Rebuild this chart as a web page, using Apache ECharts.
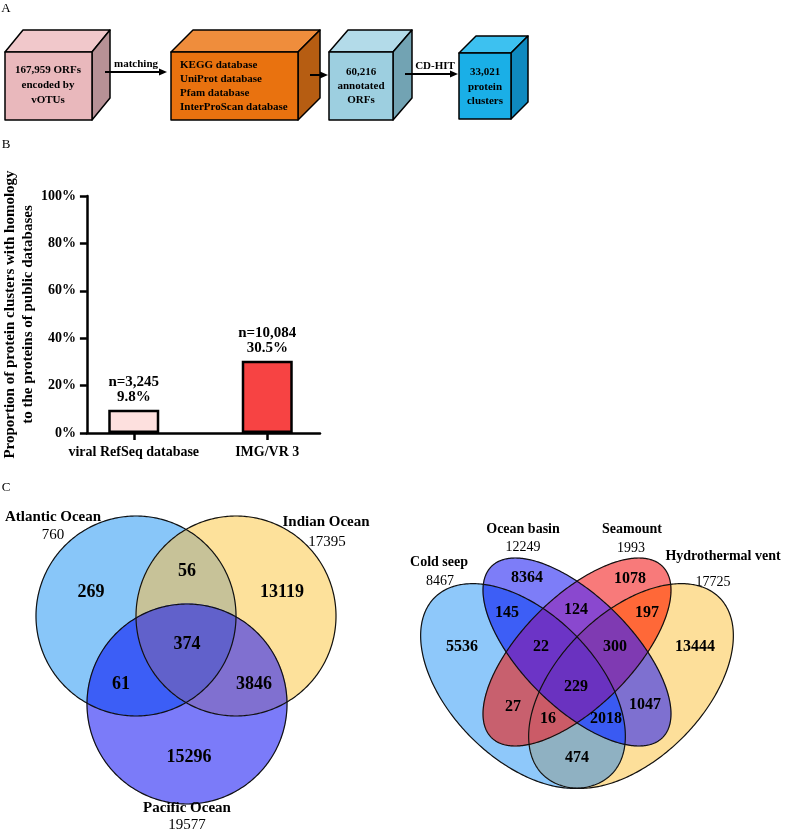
<!DOCTYPE html>
<html><head><meta charset="utf-8">
<script src="https://cdn.jsdelivr.net/npm/echarts@6/dist/echarts.min.js"></script>
<style>html,body{margin:0;padding:0;background:#fff}#main{width:786px;height:831px}</style>
</head><body><div id="main"></div>
<script>
// ---------------- DATA ----------------
const flowTexts = [
  ['167,959 ORFs', 'encoded by', 'vOTUs'],
  ['KEGG database', 'UniProt database', 'Pfam database', 'InterProScan database'],
  ['60,216', 'annotated', 'ORFs'],
  ['33,021', 'protein', 'clusters']
];
const flowArrowLabels = ['matching', '', 'CD-HIT'];

const barCategories = ['viral RefSeq database', 'IMG/VR 3'];
const barPercent = [9.8, 30.5];
const barCounts = ['3,245', '10,084'];
const yAxisMax = 100;
const yAxisStep = 20;
const yAxisTitle = ['Proportion of protein clusters with homology', 'to the proteins of public databases'];

const oceanNames = ['Atlantic Ocean', 'Indian Ocean', 'Pacific Ocean'];
const oceanTotals = [760, 17395, 19577];
const oceanRegionKeys = ['A', 'I', 'P', 'AI', 'AP', 'IP', 'AIP'];
const oceanRegionValues = [269, 13119, 15296, 56, 61, 3846, 374];

const habitatNames = ['Cold seep', 'Ocean basin', 'Seamount', 'Hydrothermal vent'];
const habitatTotals = [8467, 12249, 1993, 17725];
const habitatRegionKeys = ['C', 'O', 'S', 'H', 'CO', 'CS', 'CH', 'OS', 'OH', 'SH', 'COS', 'COH', 'CSH', 'OSH', 'COSH'];
const habitatRegionValues = [5536, 8364, 1078, 13444, 145, 27, 474, 124, 1047, 197, 22, 2018, 16, 300, 229];

// ---------------- LAYOUT / STYLE ----------------
const SERIF = '"Liberation Serif", "Times New Roman", serif';
const boxes = [
  {x: 5, y: 52, w: 87, h: 68, dx: 18, dy: 22, front: '#e9b8bc', top: '#f1c8cb', side: '#b79196', align: 'center', tx: 48, ty: [70, 85, 100]},
  {x: 171, y: 52, w: 127, h: 68, dx: 22, dy: 22, front: '#e9720f', top: '#ef8d3c', side: '#b65d12', align: 'left', tx: 180, ty: [65, 79, 93, 107]},
  {x: 329, y: 52, w: 64, h: 68, dx: 19, dy: 22, front: '#9dcfe0', top: '#b3dbe9', side: '#72a3b3', align: 'center', tx: 361, ty: [72, 86, 100]},
  {x: 459, y: 53, w: 52, h: 66, dx: 17, dy: 17, front: '#1aafe7', top: '#3dc1f0', side: '#0f89bf', align: 'center', tx: 485, ty: [72, 87, 101]}
];
const arrows = [
  {x1: 105, x2: 167, y: 72, lx: 136, ly: 64},
  {x1: 310, x2: 328, y: 75, lx: 0, ly: 0},
  {x1: 405, x2: 458, y: 74, lx: 435, ly: 66}
];
const barColors = ['#fde0de', '#f74343'];

const oceanShapes = {A: [136, 616, 100, 100, 0], I: [236, 616, 100, 100, 0], P: [187, 704, 100, 100, 0]};
const oceanColors = {A: '#88c6f9', I: '#fde19b', P: '#7b7bf9', AI: '#c7c298', AP: '#3c5ef6', IP: '#8070d0', AIP: '#6161cb'};
const oceanLabelPos = {A: [91, 592], I: [282, 592], P: [189, 757], AI: [187, 571], AP: [121, 684], IP: [254, 684], AIP: [187, 644]};
const oceanNamePos = [[53, 517, 535], [327, 522, 542], [187, 808, 825]];

const OA = 125, OB_ = 73, IA = 121, IB = 55;
const habitatShapes = {
  C: [523, 686, OA, OB_, Math.PI / 4],
  O: [577, 652, IA, IB, Math.PI / 4],
  S: [577, 652, IA, IB, -Math.PI / 4],
  H: [631, 686, OA, OB_, -Math.PI / 4]
};
const habitatColors = {
  C: '#8ec8fa', O: '#7d7df8', S: '#f87a7a', H: '#fddf9a',
  CO: '#3d5ef6', CS: '#c8606e', CH: '#8fb1c2', OS: '#8a48cf', OH: '#7e70d0', SH: '#ff6838',
  COS: '#6c34c6', COH: '#3a5af2', CSH: '#cb5b67', OSH: '#7f3ab2', COSH: '#6a32c0'
};
const habitatLabelPos = {
  C: [462, 647], O: [527, 578], S: [630, 579], H: [695, 647],
  CO: [507, 613], CS: [513, 707], CH: [577, 758], OS: [576, 610], OH: [645, 705], SH: [647, 613],
  COS: [541, 647], COH: [606, 719], CSH: [548, 719], OSH: [615, 647], COSH: [576, 687]
};
const habitatNamePos = [[439, 562, 581], [523, 529, 547], [632, 529, 548], [723, 556, 582]];
const habitatTotalX = [440, 523, 631, 713];

// ---------------- GEOMETRY HELPERS ----------------
function ellipsePoly(s, n) {
  const [cx, cy, a, b, phi] = s; const pts = [];
  const c = Math.cos(phi), sn = Math.sin(phi);
  for (let i = 0; i < n; i++) {
    const t = 2 * Math.PI * i / n;
    const x = a * Math.cos(t), y = b * Math.sin(t);
    pts.push([cx + x * c - y * sn, cy + x * sn + y * c]);
  }
  return pts;
}
function signedArea(p) { let s = 0; for (let i = 0; i < p.length; i++) { const q = p[(i + 1) % p.length]; s += p[i][0] * q[1] - q[0] * p[i][1]; } return s / 2; }
function lineInter(P, Q, A, B) {
  const d1 = [Q[0] - P[0], Q[1] - P[1]], d2 = [B[0] - A[0], B[1] - A[1]];
  const den = d1[0] * d2[1] - d1[1] * d2[0];
  const t = ((A[0] - P[0]) * d2[1] - (A[1] - P[1]) * d2[0]) / den;
  return [P[0] + t * d1[0], P[1] + t * d1[1]];
}
function clipPoly(subject, clip) {
  const sg = Math.sign(signedArea(clip));
  let out = subject;
  for (let i = 0; i < clip.length && out.length; i++) {
    const A = clip[i], B = clip[(i + 1) % clip.length];
    const ins = p => sg * ((B[0] - A[0]) * (p[1] - A[1]) - (B[1] - A[1]) * (p[0] - A[0])) >= 0;
    const inp = out; out = [];
    for (let j = 0; j < inp.length; j++) {
      const P = inp[j], Q = inp[(j + 1) % inp.length];
      const pi = ins(P), qi = ins(Q);
      if (pi) { out.push(P); if (!qi) out.push(lineInter(P, Q, A, B)); }
      else if (qi) out.push(lineInter(P, Q, A, B));
    }
  }
  return out;
}
function txt(x, y, s, size, weight, align) {
  return {type: 'text', x: x, y: y, silent: true, z: 100, style: {text: s, fontSize: size, fontFamily: SERIF, fontWeight: weight || 'normal', fill: '#000', align: align || 'center', verticalAlign: 'middle', textAlign: align || 'center', textVerticalAlign: 'middle'}};
}
function vennGraphics(shapes, colors, keys, values, labelPos, fontSize) {
  const els = [];
  const polys = {};
  Object.keys(shapes).forEach(k => polys[k] = ellipsePoly(shapes[k], 360));
  const ordered = keys.slice().sort((a, b) => a.length - b.length);
  ordered.forEach(key => {
    let p = polys[key[0]];
    for (let i = 1; i < key.length; i++) p = clipPoly(p, polys[key[i]]);
    if (p.length > 2) els.push({type: 'polygon', shape: {points: p}, style: {fill: colors[key], stroke: colors[key], lineWidth: 0.6}, silent: true});
  });
  Object.keys(polys).forEach(k => els.push({type: 'polygon', shape: {points: polys[k]}, style: {fill: 'none', stroke: '#111', lineWidth: 1.2}, silent: true}));
  keys.forEach((key, i) => els.push(txt(labelPos[key][0], labelPos[key][1], String(values[i]), fontSize, 'bold')));
  return els;
}

// ---------------- GRAPHICS ----------------
const g = [];
g.push(txt(6, 9, 'A', 13, 'normal'), txt(6, 145, 'B', 13, 'normal'), txt(6, 488, 'C', 13, 'normal'));
boxes.forEach((b, i) => {
  const st = {stroke: '#000', lineWidth: 1.5, lineJoin: 'round'};
  g.push({type: 'polygon', shape: {points: [[b.x, b.y], [b.x + b.w, b.y], [b.x + b.w + b.dx, b.y - b.dy], [b.x + b.dx, b.y - b.dy]]}, style: Object.assign({fill: b.top}, st)});
  g.push({type: 'polygon', shape: {points: [[b.x + b.w, b.y], [b.x + b.w + b.dx, b.y - b.dy], [b.x + b.w + b.dx, b.y + b.h - b.dy], [b.x + b.w, b.y + b.h]]}, style: Object.assign({fill: b.side}, st)});
  g.push({type: 'rect', shape: {x: b.x, y: b.y, width: b.w, height: b.h}, style: Object.assign({fill: b.front}, st)});
  flowTexts[i].forEach((t, j) => g.push(txt(b.tx, b.ty[j], t, 11, 'bold', b.align)));
});
arrows.forEach((a, i) => {
  g.push({type: 'line', shape: {x1: a.x1, y1: a.y, x2: a.x2 - 6, y2: a.y}, style: {stroke: '#000', lineWidth: 2}});
  g.push({type: 'polygon', shape: {points: [[a.x2, a.y], [a.x2 - 8, a.y - 3.5], [a.x2 - 8, a.y + 3.5]]}, style: {fill: '#000'}});
  if (flowArrowLabels[i]) g.push(txt(a.lx, a.ly, flowArrowLabels[i], 11, 'bold'));
});

vennGraphics(oceanShapes, oceanColors, oceanRegionKeys, oceanRegionValues, oceanLabelPos, 18).forEach(e => g.push(e));
oceanNames.forEach((n, i) => {
  const p = oceanNamePos[i];
  g.push(txt(i === 1 ? 326 : p[0], p[1], n, 15, 'bold'));
  g.push(txt(p[0], p[2], String(oceanTotals[i]), 15, 'normal'));
});
vennGraphics(habitatShapes, habitatColors, habitatRegionKeys, habitatRegionValues, habitatLabelPos, 16).forEach(e => g.push(e));
habitatNames.forEach((n, i) => {
  const p = habitatNamePos[i];
  g.push(txt(p[0], p[1], n, 14, 'bold'));
  g.push(txt(habitatTotalX[i], p[2], String(habitatTotals[i]), 14, 'normal'));
});

// ---------------- CHART ----------------
const axisLineStyle = {color: '#000', width: 2.5};
const labelFont = {fontFamily: SERIF, fontWeight: 'bold', fontSize: 14, color: '#000'};
const chart = echarts.init(document.getElementById('main'), null, {renderer: 'canvas'});
chart.setOption({
  backgroundColor: '#fff',
  animation: false,
  grid: [
    {left: 80, top: 196, width: 240, height: 237},
    {left: 67, top: 196, width: 267, height: 237}
  ],
  xAxis: [
    {gridIndex: 0, type: 'value', min: 0, max: 1, axisLine: {show: true, lineStyle: axisLineStyle}, axisTick: {show: false}, axisLabel: {show: false}, splitLine: {show: false}},
    {gridIndex: 1, type: 'category', data: barCategories, axisLine: {show: false},
      axisTick: {show: true, alignWithLabel: true, interval: 0, length: 7, lineStyle: axisLineStyle},
      axisLabel: Object.assign({margin: 12, interval: 0, hideOverlap: false}, labelFont), splitLine: {show: false}}
  ],
  yAxis: [
    {gridIndex: 0, type: 'value', min: 0, max: yAxisMax, interval: yAxisStep,
      axisLine: {show: true, lineStyle: axisLineStyle},
      axisTick: {show: true, length: 7, lineStyle: axisLineStyle},
      axisLabel: Object.assign({margin: 11, formatter: '{value}%'}, labelFont),
      splitLine: {show: false},
      name: yAxisTitle.join('\n'), nameLocation: 'middle', nameGap: 40,
      nameTextStyle: Object.assign({}, labelFont, {fontSize: 15, lineHeight: 18})},
    {gridIndex: 1, type: 'value', min: 0, max: yAxisMax, show: false}
  ],
  series: [{
    type: 'bar', xAxisIndex: 1, yAxisIndex: 1, barWidth: 51,
    data: barPercent.map((v, i) => ({value: v, itemStyle: {color: barColors[i]}})),
    itemStyle: {borderColor: '#000', borderWidth: 2.5},
    label: {show: true, position: 'top', distance: 5, lineHeight: 15,
      formatter: p => 'n=' + barCounts[p.dataIndex] + '\n' + p.value + '%',
      fontFamily: SERIF, fontWeight: 'bold', fontSize: 15, color: '#000'}
  }],
  graphic: {elements: g}
});
</script>
</body></html>
